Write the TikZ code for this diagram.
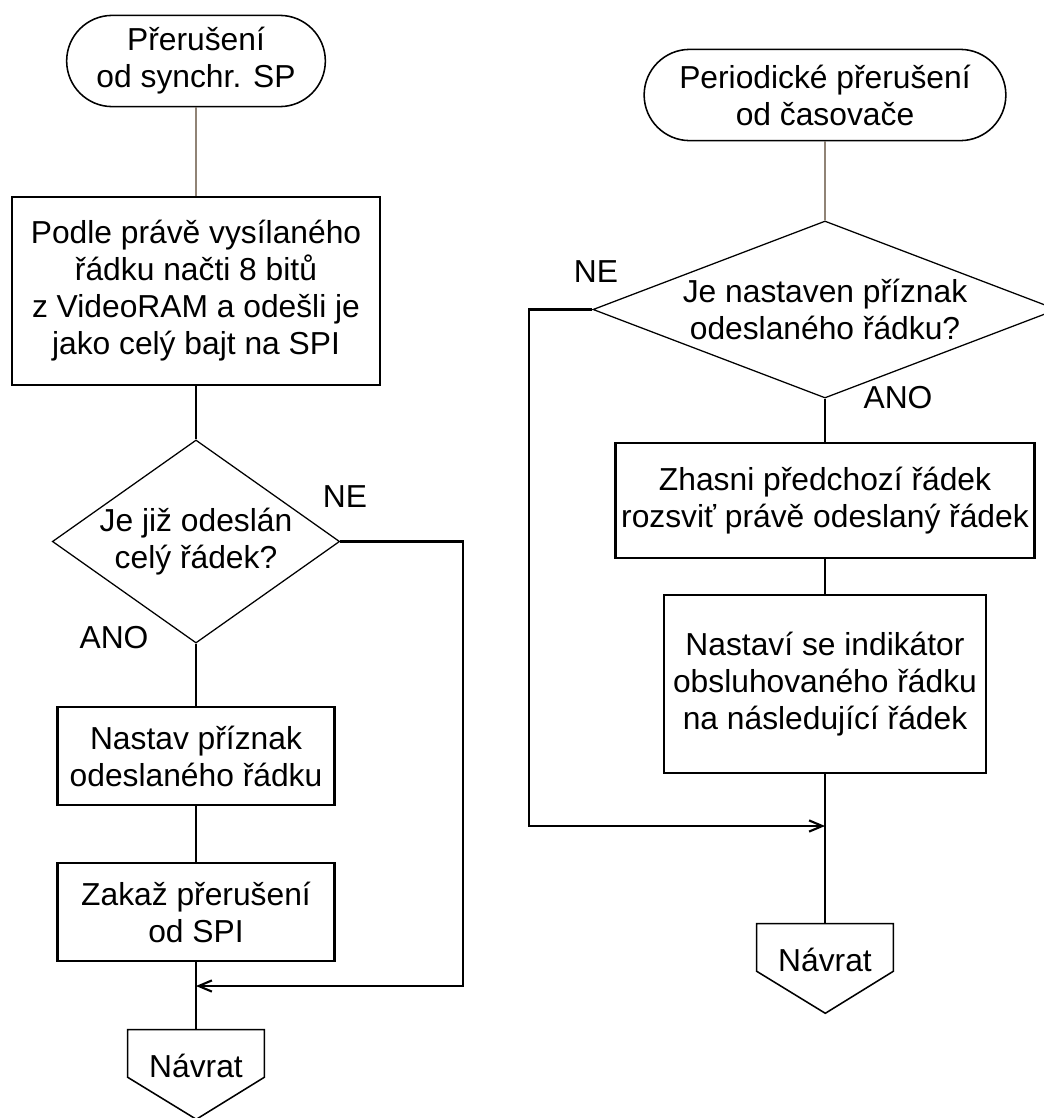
\documentclass[tikz,border=0pt]{standalone}
\usepackage{fontspec}
\setmainfont{Liberation Sans}
\usepackage{tikz}
\usetikzlibrary{shapes.geometric, shapes.misc, arrows.meta}
\definecolor{linkbrown}{RGB}{85,65,45}

\begin{document}
\begin{tikzpicture}[
    x=0.025cm, y=-0.025cm,
    font=\fontsize{22.6pt}{26.3pt}\selectfont,
    terminal/.style={rounded rectangle, draw, line width=1.1pt, align=center, minimum height=2.28cm},
    process/.style={rectangle, draw, line width=1.7pt, align=center},
    decision/.style={diamond, draw, line width=0.9pt, align=center, inner sep=0pt},
    retlabel/.style={rectangle, inner sep=0pt, text height=1.175cm, text depth=0pt, minimum width=3.4cm},
    outline/.style={line width=1.1pt},
    answer/.style={inner sep=0pt},
    link/.style={line width=1.5pt},
    startlink/.style={line width=0.9pt, color=linkbrown},
    flowarrow/.style={-{Straight Barb[length=3.3mm, width=2.8mm]}, line width=1.5pt},
]
\useasboundingbox (0,0) rectangle (1044,1118);

% === Left: SPI interrupt ===
\node[terminal, minimum width=6.7cm] (start1) at (196, 61) {Přerušení\\od synchr. SP};
\node[process, minimum width=9.2cm, minimum height=4.7cm] (read) at (196, 291)
    {Podle právě vysílaného\\řádku načti 8 bitů\\z VideoRAM a odešli je\\jako celý bajt na SPI};
\node[decision, aspect=1.415, minimum width=6.9cm, minimum height=4.875cm] (sent) at (196, 541.5)
    {Je již odeslán\\celý řádek?};
\node[process, minimum width=6.925cm, minimum height=2.45cm] (flag) at (196, 756)
    {Nastav příznak\\odeslaného řádku};
\node[process, minimum width=6.925cm, minimum height=2.45cm] (nospi) at (196, 912)
    {Zakaž přerušení\\od SPI};
\node[retlabel] (ret1) at (196, 1053.5) {Návrat};
\draw[outline] (ret1.south west) -- (ret1.north west) -- (ret1.north east)
    -- (ret1.south east) -- ++(-68, 42) -- cycle;
\coordinate (join1) at (196, 986);

\node[answer] (ne1) at (345, 497) {NE};
\node[answer] (ano1) at (114, 638) {ANO};

\draw[startlink] (start1) -- (read);
\draw[link] (read) -- (sent);
\draw[link] (sent) -- (flag);
\draw[link] (flag) -- (nospi);
\draw[link] (nospi) -- (ret1);
\draw[flowarrow] (sent.east) -- ++(123, 0) |- (join1);

% === Right: timer interrupt ===
\node[terminal, minimum width=9.275cm] (start2) at (825, 95) {Periodické přerušení\\od časovače};
\node[decision, aspect=2.62, minimum width=11.6cm, minimum height=4.425cm] (test) at (825, 309.5)
    {Je nastaven příznak\\odeslaného řádku?};
\node[process, minimum width=10.475cm, minimum height=2.875cm] (swap) at (825, 500.5)
    {Zhasni předchozí řádek\\rozsviť právě odeslaný řádek};
\node[process, minimum width=8.05cm, minimum height=4.45cm] (next) at (825, 684)
    {Nastaví se indikátor\\obsluhovaného řádku\\na následující řádek};
\node[retlabel] (ret2) at (825, 947.5) {Návrat};
\draw[outline] (ret2.south west) -- (ret2.north west) -- (ret2.north east)
    -- (ret2.south east) -- ++(-68, 42) -- cycle;
\coordinate (join2) at (825, 826);

\node[answer] (ne2) at (596, 272) {NE};
\node[answer] (ano2) at (898, 398) {ANO};

\draw[startlink] (start2) -- (test);
\draw[link] (test) -- (swap);
\draw[link] (swap) -- (next);
\draw[link] (next) -- (ret2);
\draw[flowarrow] (test.west) -- ++(-63, 0) |- (join2);

\end{tikzpicture}
\end{document}
